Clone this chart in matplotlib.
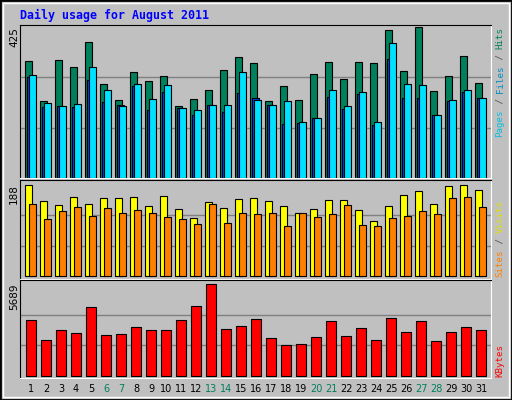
import matplotlib
matplotlib.use('Agg')
import matplotlib.pyplot as plt
from matplotlib.patches import Rectangle

days = list(range(1, 32))
weekends = [6, 7, 13, 14, 20, 21, 27, 28]

hits = [330, 217, 333, 313, 382, 266, 220, 298, 272, 287, 203, 223, 249, 304, 342, 324,
        217, 258, 220, 292, 327, 278, 327, 324, 417, 301, 425, 246, 287, 344, 269]
files = [290, 212, 203, 209, 313, 249, 203, 264, 223, 261, 197, 191, 206, 206, 298, 220,
         206, 217, 157, 168, 249, 203, 243, 157, 379, 264, 261, 177, 220, 249, 226]
pages = [284, 200, 203, 200, 275, 215, 206, 258, 191, 243, 197, 177, 206, 186, 240, 226,
         206, 151, 154, 168, 229, 194, 238, 148, 336, 226, 226, 177, 217, 243, 226]
visits = [188, 154, 146, 163, 148, 161, 161, 163, 144, 165, 138, 119, 152, 140, 158, 161,
          154, 144, 130, 138, 156, 156, 136, 113, 144, 167, 175, 148, 186, 188, 177]
sites = [148, 117, 134, 142, 123, 140, 130, 136, 130, 121, 117, 107, 148, 109, 130, 127,
         130, 103, 130, 121, 127, 146, 105, 103, 119, 123, 134, 127, 161, 163, 142]
kbytes = [3446, 2201, 2823, 2637, 4256, 2512, 2574, 3010, 2823, 2823, 3446, 4318, 5689, 2886,
          3072, 3508, 2325, 1889, 1951, 2387, 3384, 2450, 2948, 2201, 3571, 2699, 3384, 2138,
          2699, 3010, 2823]

W, H = 512, 400
BG = '#C0C0C0'
fig = plt.figure(figsize=(W / 100, H / 100), dpi=100, facecolor=BG)

def fx(x):
    return x / W

def fy(y):
    return 1 - y / H

# outer bevel frame
fig.patches.append(Rectangle((0, 0), 1, 1, transform=fig.transFigure, fill=False,
                             edgecolor='black', lw=2))
fig.patches.append(Rectangle((fx(3), fy(397)), fx(506), 394 / H, transform=fig.transFigure,
                             fill=False, edgecolor='white', lw=1))

def panel(top, bottom, ymin, ymax, gridvals):
    ax = fig.add_axes([fx(20), fy(bottom), fx(471), (bottom - top) / H])
    ax.set_facecolor(BG)
    ax.set_xlim(1 - 5 / 15, 1 - 5 / 15 + 471 / 15)
    ax.set_ylim(ymin, ymax)
    for g in gridvals:
        ax.axhline(g, color='#808080', lw=1, zorder=0)
    ax.set_xticks([])
    ax.set_yticks([])
    ax.spines['left'].set_color('black')
    ax.spines['top'].set_color('black')
    ax.spines['right'].set_color('white')
    ax.spines['bottom'].set_color('white')
    return ax

# hits / files / pages
ax1 = panel(25, 178, 0, 431, [425 / 3, 850 / 3])
x = days
ax1.bar(x, hits, width=7 / 15, align='edge', color='#00805C', edgecolor='black', lw=0.8, zorder=2)
ax1.bar([d + 2 / 15 for d in x], pages, width=7 / 15, align='edge', color='#0040FF', edgecolor='black', lw=0.8, zorder=3)
ax1.bar([d + 4 / 15 for d in x], files, width=7 / 15, align='edge', color='#00E0FF', edgecolor='black', lw=0.8, zorder=4)

# visits / sites
ax2 = panel(180, 279, -6, 198, [188 / 3, 376 / 3])
ax2.bar(x, visits, width=7 / 15, align='edge', color='#FFFF00', edgecolor='black', lw=0.8, zorder=2)
ax2.bar([d + 4 / 15 for d in x], sites, width=7 / 15, align='edge', color='#FF8000', edgecolor='black', lw=0.8, zorder=3)

# kbytes
ax3 = panel(280, 378, -143, 5957, [5689 / 3, 11378 / 3])
ax3.bar([d + 1 / 15 for d in x], kbytes, width=10 / 15, align='edge', color='#FF0000', edgecolor='black', lw=0.8, zorder=2)

# day labels
for d in days:
    col = '#00805C' if d in weekends else 'black'
    ax3.text(d + 6 / 15, -0.115, str(d), transform=ax3.get_xaxis_transform(),
             ha='center', va='center', fontsize=7, color=col)

# title
fig.text(fx(20), fy(15), 'Daily usage for August 2011', fontsize=8.4, fontweight='bold',
         family='DejaVu Sans Mono', color='#0000FF', ha='left', va='center')

# max labels on the left
for val, ytop in [('425', 27), ('188', 184), ('5689', 283)]:
    fig.text(fx(14), fy(ytop), val, rotation=90, rotation_mode='anchor', ha='right',
             va='center', fontsize=7.5, color='black')

# right side legends, stacked bottom-to-top
SIDE_FS = 6.6
def side_label(parts, ystart):
    y = ystart
    step = 0.602 * SIDE_FS * 100 / 72
    for txt, col in parts:
        fig.text(fx(500), fy(y), txt, rotation=90, rotation_mode='anchor', ha='left',
                 va='center', fontsize=SIDE_FS, family='DejaVu Sans Mono', color=col)
        y -= step * len(txt)

side_label([('Pages', '#00C0E0'), (' / ', '#505050'), ('Files', '#0090C0'),
            (' / ', '#505050'), ('Hits', '#00805C')], 137)
side_label([('Sites', '#FF8000'), (' / ', '#505050'), ('Visits', '#E0E000')], 277)
side_label([('KBytes', '#FF0000')], 377)

fig.savefig('out.png', dpi=100, facecolor=BG)
